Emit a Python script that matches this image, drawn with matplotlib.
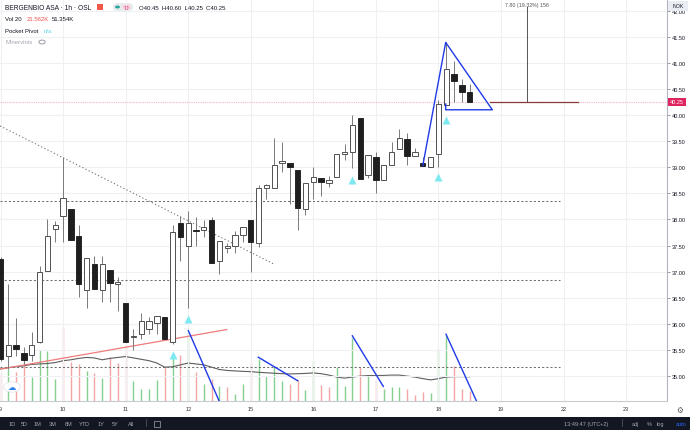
import matplotlib
matplotlib.use('Agg')
import matplotlib.pyplot as plt
from matplotlib.patches import Rectangle, FancyBboxPatch, Circle
from matplotlib.transforms import blended_transform_factory

plt.rcParams['font.family'] = ['Liberation Sans', 'DejaVu Sans']

# ---------------- data ----------------
day_labels = ['9', '10', '11', '12', '15', '16', '17', '18', '19', '22', '23']
day_start_bar = [0, 8, 16, 24, 32, 40, 48, 56, 64, 72, 80]

opens = [37.24, 35.38, 35.59, 35.44, 35.40, 35.66, 37.01, 37.81, 38.07, 38.19,
         37.69, 36.65, 37.15, 36.65, 37.04, 36.76, 36.40, 35.75, 35.80, 35.90,
         36.01, 36.14, 35.66, 37.94, 37.50, 37.80, 37.80, 37.99, 37.21, 37.45,
         37.50, 37.70, 37.99, 37.55, 38.60, 38.60, 39.09, 39.09, 38.95, 38.20,
         38.71, 38.79, 38.70, 38.81, 39.25, 39.30, 39.94, 38.85, 39.19, 38.75,
         39.05, 39.35, 39.54, 39.21, 39.08, 39.00, 39.25, 40.19, 40.79, 40.58,
         40.45]
highs = [37.28, 36.76, 36.11, 35.56, 35.84, 37.11, 38.01, 37.96, 39.20, 38.19,
         37.89, 37.26, 37.30, 37.30, 37.04, 36.90, 36.40, 35.90, 36.21, 36.13,
         36.15, 36.14, 37.89, 38.07, 38.17, 38.05, 37.99, 38.05, 37.59, 37.55,
         37.78, 37.85, 37.99, 38.66, 38.68, 39.55, 39.48, 39.09, 38.95, 38.70,
         39.00, 38.79, 38.84, 39.25, 39.44, 40.00, 39.94, 39.24, 39.30, 39.05,
         39.48, 39.74, 39.66, 39.36, 39.19, 39.20, 40.29, 41.39, 41.04, 40.69,
         40.60]
lows = [35.29, 35.13, 35.38, 35.23, 35.29, 35.64, 37.01, 37.56, 37.56, 37.61,
        36.51, 36.30, 36.67, 36.42, 36.42, 36.25, 35.66, 35.50, 35.71, 35.80,
        35.81, 35.71, 35.61, 37.21, 36.30, 37.50, 37.66, 37.16, 36.95, 37.36,
        37.36, 37.56, 37.00, 37.47, 38.40, 38.60, 38.90, 38.30, 37.80, 38.09,
        38.40, 38.45, 38.63, 38.81, 39.14, 38.98, 38.77, 38.79, 38.51, 38.75,
        39.05, 39.35, 39.04, 39.21, 39.02, 39.00, 39.00, 40.19, 40.25, 40.25,
        40.25]
closes = [35.33, 35.60, 35.52, 35.31, 35.59, 37.00, 37.69, 37.90, 38.41, 37.61,
          36.76, 37.26, 36.67, 37.15, 36.78, 36.81, 35.66, 35.77, 36.05, 36.05,
          36.15, 35.71, 37.75, 37.66, 37.94, 37.77, 37.85, 37.16, 37.59, 37.49,
          37.70, 37.85, 37.56, 38.60, 38.65, 39.05, 39.11, 39.01, 38.21, 38.70,
          38.81, 38.72, 38.75, 39.25, 39.30, 39.80, 38.77, 39.24, 38.76, 39.05,
          39.30, 39.55, 39.22, 39.30, 39.02, 39.20, 40.21, 40.89, 40.66, 40.45,
          40.25]

volumes_k = [60, 68, 61, 86, 50, 110, 108, 47, 158, 83,
             79, 63, 59, 49, 93, 80, 119, 43, 26, 26,
             45, 75, 103, 99, 147, 61, 36, 47, 31, 29,
             15, 36, 83, 90, 54, 75, 43, 36, 45, 23,
             85, 34, 29, 73, 32, 136, 72, 52, 45, 25,
             30, 29, 25, 11, 19, 17, 111, 140, 75, 26,
             21.562]
volume_up = [0, 1, 0, 0, 1, 1, 1, 1, 0, 0,
             0, 1, 0, 1, 0, 0, 0, 1, 1, 1,
             1, 0, 1, 0, 1, 0, 1, 0, 1, 0,
             1, 1, 0, 1, 1, 1, 1, 0, 0, 1,
             1, 0, 0, 1, 1, 1, 0, 1, 0, 1,
             1, 1, 0, 0, 0, 1, 1, 1, 0, 0,
             0]
vol_ma_k = [68.3, 71, 73, 75, 78, 79, 80, 82, 86, 88,
            91, 93, 92, 88, 91, 93, 95, 92, 89, 86,
            81, 72, 73, 77, 81, 79, 77, 72, 67, 65,
            64, 63, 62.5, 61, 60, 59, 58, 57.5, 58, 58.6,
            59.7, 58, 55, 50.7, 48.5, 50.7, 52.8, 54, 54, 54.3,
            55, 55, 52.8, 50.7, 47.4, 44.6, 47.4, 50.7, 51.7, 51.7,
            51.354]

pivot_bars = [22, 24, 45, 56, 57]
pivot_marker_price = [35.40, 36.10, 38.76, 38.81, 39.91]

level_prices = [38.35, 36.83, 35.17]
level_span = [-0.1, 71.55]

dotted_trend_x = [-0.06, 34.88]
dotted_trend_y = [39.79, 37.15]
red_trend_x = [-0.06, 28.93]
red_trend_y = [35.13, 35.89]
blue_seg_x = [[24.02, 28.40], [32.97, 38.00], [44.99, 48.95], [56.97, 60.87]]
blue_seg_y = [[35.87, 34.37], [35.36, 34.91], [35.77, 34.80], [35.80, 34.52]]
pattern_x = [54.0, 56.93, 62.89, 56.93, 56.93]
pattern_y = [39.03, 41.39, 40.10, 40.10, 40.21]

last_price = 40.25
measure_x = 67.33
measure_top = 42.07
measure_h_x = [62.6, 73.85]

price_ticks = [35.0, 35.5, 36.0, 36.5, 37.0, 37.5, 38.0, 38.5, 39.0, 39.5,
               40.0, 40.5, 41.0, 41.5, 42.0]

# ---------------- layout ----------------
W, H = 690, 431
fig = plt.figure(figsize=(W / 100, H / 100), dpi=100)
fig.patch.set_facecolor('white')

def fx(x):
    return x / W

def fy(y):
    return 1 - y / H

ax_left, ax_right, ax_top, ax_bot = 0, 666.7, 0, 401.6
ax = fig.add_axes([fx(ax_left), fy(ax_bot), fx(ax_right - ax_left), (ax_bot - ax_top) / H])
axv = ax.twinx()
ax.set_zorder(2)
axv.set_zorder(1)
ax.patch.set_visible(False)
axv.patch.set_facecolor('white')

XMIN, XMAX = -0.064, 85.19
YMIN, YMAX = 34.529, 42.222
ax.set_xlim(XMIN, XMAX)
ax.set_ylim(YMIN, YMAX)
axv.set_ylim(0, 865.8)
axv.set_yticks([])
for s in axv.spines.values():
    s.set_visible(False)

# grid
for b in day_start_bar:
    ax.axvline(b, color='#eef0f4', lw=0.8, zorder=0)
for p in price_ticks:
    ax.axhline(p, color='#eef0f4', lw=0.8, zorder=0)

# volume
n = len(opens)
idx = list(range(n))
vcols = ['#86cf8e' if u else '#f2a6a6' for u in volume_up]
axv.vlines(idx, 0, volumes_k, colors=vcols, lw=1.0)
axv.plot(idx, vol_ma_k, color='#5d5d5d', lw=0.8)

# price line
ax.axhline(last_price, color='#f6b3c3', lw=0.8, ls=(0, (1, 1)), zorder=1)

# levels
for lv in level_prices:
    ax.plot(level_span, [lv, lv], color='#6e6e6e', lw=0.75, ls=(0, (2, 2)), zorder=1)

# trend lines
ax.plot(dotted_trend_x, dotted_trend_y, color='#707070', lw=0.75, ls=(0, (1.2, 2.2)), zorder=1)
ax.plot(red_trend_x, red_trend_y, color='#ef7b7b', lw=0.9, zorder=3)

# candles
bw = 0.68
for i in idx:
    o, h, l, c = opens[i], highs[i], lows[i], closes[i]
    ax.vlines(i, l, h, color='#7a7a7a', lw=0.7, zorder=3)
    bot = min(o, c)
    ht = max(abs(c - o), 0.022)
    if c >= o:
        ax.add_patch(Rectangle((i - bw / 2, bot), bw, ht, facecolor='white',
                               edgecolor='#505050', lw=0.7, zorder=4))
    else:
        ax.add_patch(Rectangle((i - bw / 2, bot), bw, ht, facecolor='#1f1f1f',
                               edgecolor='#1f1f1f', lw=0.65, zorder=4))

# pocket pivot markers
ax.plot(pivot_bars, pivot_marker_price, ls='none', marker='^', ms=6,
        color='#7ee9f0', mec='none', zorder=5)

# blue drawings
for xs, ys in zip(blue_seg_x, blue_seg_y):
    ax.plot(xs, ys, color='#1f3ae8', lw=1.0, zorder=6)
ax.plot(pattern_x, pattern_y, color='#1f3ae8', lw=1.0, zorder=6)

# measurement
ax.plot([measure_x, measure_x], [last_price, measure_top], color='#555555', lw=0.7, zorder=6)
ax.plot(measure_h_x, [last_price - 0.01] * 2, color='#8a3b3b', lw=0.9, zorder=6)
ax.text(measure_x, 42.12, '7.80 (19.32%) 156', ha='center', va='center',
        fontsize=3.8, color='#555555', zorder=7)

# axes styling
for k in ['top', 'left']:
    ax.spines[k].set_visible(False)
ax.spines['right'].set_color('#b2b5be')
ax.spines['right'].set_linewidth(0.8)
ax.spines['bottom'].set_color('#c8cad0')
ax.spines['bottom'].set_linewidth(0.8)
ax.yaxis.tick_right()
ax.set_yticks(price_ticks)
ax.set_yticklabels([f'{p:.2f}' for p in price_ticks])
ax.tick_params(axis='y', length=2.2, width=0.6, color='#888888', pad=1.5,
               labelsize=4, labelcolor='#131722')
ax.set_xticks(day_start_bar)
ax.set_xticklabels(day_labels)
ax.tick_params(axis='x', length=0, pad=3.7, labelsize=4, labelcolor='#333333')

# last price label
tr = blended_transform_factory(ax.transAxes, ax.transData)
ax.text(1.0 + 3 / 666.7, last_price, '40.25', transform=tr, ha='left', va='center',
        fontsize=4, color='white', clip_on=False, zorder=10,
        bbox=dict(boxstyle='square,pad=0.35', fc='#e0245e', ec='none'))

# NOK box
fig.patches.append(Rectangle((fx(668), fy(12)), fx(20), 10 / H, transform=fig.transFigure,
                             facecolor='#e9ecf2', edgecolor='none', zorder=20))
fig.text(fx(678), fy(7), 'NOK', ha='center', va='center', fontsize=3.8,
         color='#131722', zorder=21)

# gear on time axis
fig.text(fx(680), fy(410), '\u2699', ha='center', va='center', fontsize=5.5,
         color='#555555', family='DejaVu Sans')

# header
def ftxt(x, y, s, **kw):
    fig.text(fx(x), fy(y), s, va='center', **kw)

ftxt(5, 8, 'BERGENBIO ASA \u00b7 1h \u00b7 OSL', fontsize=4.8, color='#131722')
fig.patches.append(Rectangle((fx(97.5), fy(10.5)), fx(5.5), 5.5 / H, transform=fig.transFigure,
                             facecolor='#f0584a', edgecolor='none'))
fig.patches.append(FancyBboxPatch((fx(113), fy(12)), fx(20), 8 / H, transform=fig.transFigure,
                                  boxstyle='round,pad=0,rounding_size=0.008',
                                  facecolor='#e8eaee', edgecolor='none'))
fig.patches.append(Circle((fx(117.5), fy(8)), 0.0035, transform=fig.transFigure,
                          facecolor='#26a69a', edgecolor='none'))
fig.patches.append(Circle((fx(126.5), fy(8)), 0.0055, transform=fig.transFigure,
                          facecolor='#f8c5d4', edgecolor='none'))
ftxt(126.5, 8, 'D', fontsize=3.5, color='#e0245e', ha='center')
ftxt(139, 8, 'O40.45  H40.60  L40.25  C40.25', fontsize=4.3, color='#131722')
ftxt(5, 19.5, 'Vol 20', fontsize=4.3, color='#131722')
ftxt(26.5, 19.5, '21.562K', fontsize=4.3, color='#ef5350')
ftxt(51.5, 19.5, '51.354K', fontsize=4.3, color='#131722')
ftxt(5, 31.5, 'Pocket Pivot', fontsize=4.3, color='#131722')
ftxt(43.5, 31.5, 'n/a', fontsize=4.3, color='#5ad8e4')
ftxt(5, 43, 'Minervinis', fontsize=4.3, color='#a3a6af')
fig.patches.append(Circle((fx(42), fy(43)), 0.0045, transform=fig.transFigure,
                          facecolor='none', edgecolor='#8a8d96', lw=0.6))

# cloud icon
fig.patches.append(Circle((fx(12), fy(388)), 0.012, transform=fig.transFigure,
                          facecolor='white', edgecolor='#e3e5ea', lw=0.6, zorder=20))
fig.text(fx(12), fy(388), '\u2601', ha='center', va='center', fontsize=6,
         color='#2f80ed', family='DejaVu Sans', zorder=21)

# bottom toolbar
fig.patches.append(Rectangle((0, 0), 1, 13.5 / H, transform=fig.transFigure,
                             facecolor='#131722', edgecolor='none'))
ranges = ['1D', '5D', '1M', '3M', '6M', 'YTD', '1Y', '5Y', 'All']
range_x = [12, 24.5, 37.5, 53, 68.5, 84.5, 101.5, 115, 131]
for lab, xx in zip(ranges, range_x):
    ftxt(xx, 424.5, lab, fontsize=4, color='#a3a6af', ha='center')
fig.patches.append(Rectangle((fx(146), fy(428)), 0.6 / W, 8 / H, transform=fig.transFigure,
                             facecolor='#434651', edgecolor='none'))
fig.patches.append(Rectangle((fx(154), fy(428)), fx(6), 6 / H, transform=fig.transFigure,
                             facecolor='none', edgecolor='#a3a6af', lw=0.5))
ftxt(586, 424.5, '13:49:47 (UTC+2)', fontsize=4, color='#a3a6af', ha='center')
fig.patches.append(Rectangle((fx(622), fy(428)), 0.6 / W, 8 / H, transform=fig.transFigure,
                             facecolor='#434651', edgecolor='none'))
ftxt(635, 424.5, 'adj', fontsize=4, color='#a3a6af', ha='center')
ftxt(649, 424.5, '%', fontsize=4, color='#a3a6af', ha='center')
ftxt(660, 424.5, 'log', fontsize=4, color='#a3a6af', ha='center')
ftxt(681, 424.5, 'auto', fontsize=4, color='#2962ff', ha='center')

fig.savefig('out.png', dpi=100)
